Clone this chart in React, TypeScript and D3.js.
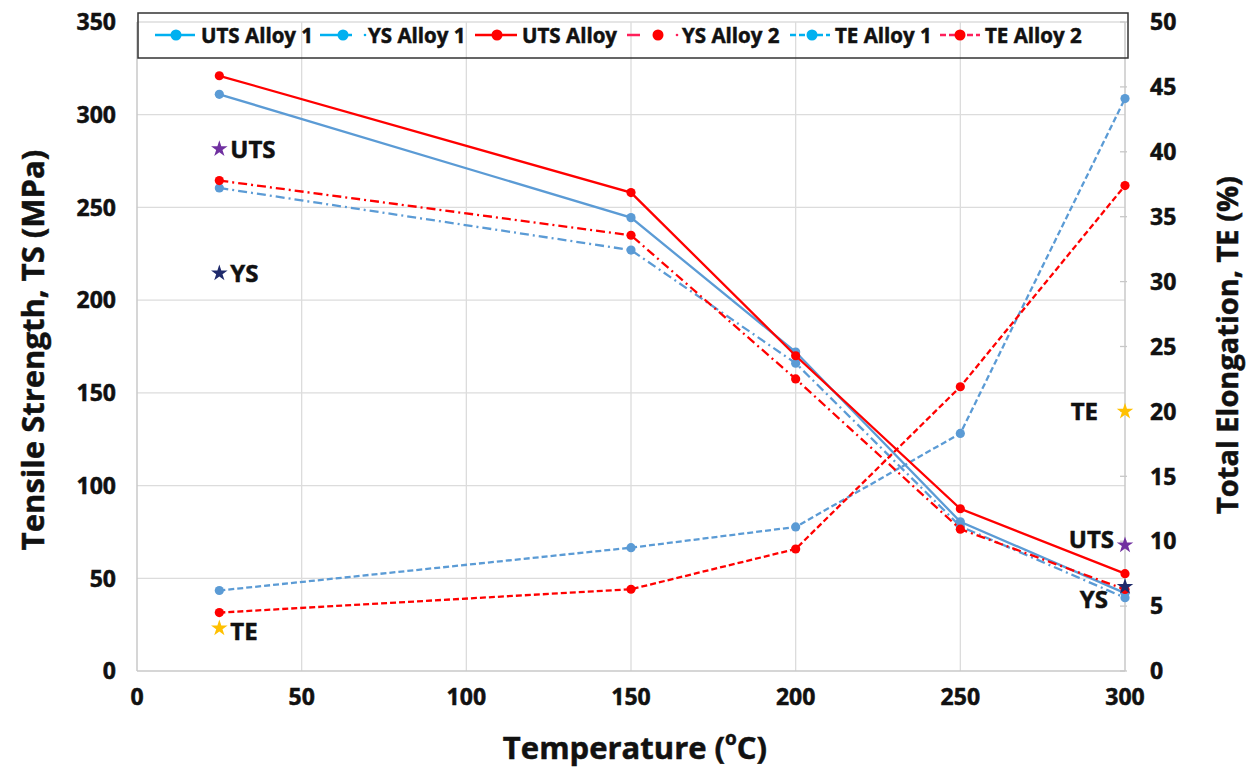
import React from "react";
import * as d3 from "d3";

// Test temperatures (°C)
const temperatures = [25, 150, 200, 250, 300];

// Tensile strength series (MPa, left axis)
const utsAlloy1 = [311, 244.5, 172, 80.5, 42];
const utsAlloy2 = [321, 258, 170, 87.5, 52.5];
const ysAlloy1 = [260.5, 227, 166, 78, 39.5];
const ysAlloy2 = [264.5, 235, 157.5, 76.5, 44];

// Total elongation series (%, right axis)
const teAlloy1 = [6.2, 9.5, 11.1, 18.3, 44.1];
const teAlloy2 = [4.5, 6.3, 9.4, 21.9, 37.4];

// Reference values shown as stars
const refTemps = [25, 25, 25, 300, 300, 300];
const refNames = ["UTS", "YS", "TE", "TE", "UTS", "YS"];
const refValues = [281.5, 214.5, 3.3, 20, 9.7, 6.5];
const refAxis = ["left", "left", "right", "right", "right", "right"];

// Axis ticks
const xTicks = [0, 50, 100, 150, 200, 250, 300];
const leftTicks = [0, 50, 100, 150, 200, 250, 300, 350];
const rightTicks = [0, 5, 10, 15, 20, 25, 30, 35, 40, 45, 50];

const legendLabels = ["UTS Alloy 1", "YS Alloy 1", "UTS Alloy", "YS Alloy 2", "TE Alloy 1", "TE Alloy 2"];

const W = 1255;
const H = 771;
const margin = { left: 137, right: 130, top: 22, bottom: 100 };
const FONT = "'Open Sans', 'Noto Sans', sans-serif";
const INK = "#111";

const BLUE = "#5B9BD5";
const RED = "#FF0000";
const CYAN = "#00B0F0";
const PINK = "#FF1F5A";

const starColors: Record<string, string> = { UTS: "#7030A0", YS: "#1F2A6B", TE: "#FFC000" };

export default function App() {
  const x = d3.scaleLinear().domain([0, 300]).range([margin.left, W - margin.right]);
  const yL = d3.scaleLinear().domain([0, 350]).range([H - margin.bottom, margin.top]);
  const yR = d3.scaleLinear().domain([0, 50]).range([H - margin.bottom, margin.top]);

  const lineL = d3.line<number>().x((_, i) => x(temperatures[i])).y((v) => yL(v));
  const lineR = d3.line<number>().x((_, i) => x(temperatures[i])).y((v) => yR(v));

  const series = [
    { values: utsAlloy1, line: lineL, y: yL, color: BLUE, dash: "none" },
    { values: ysAlloy1, line: lineL, y: yL, color: BLUE, dash: "9,4,2,4" },
    { values: teAlloy1, line: lineR, y: yR, color: BLUE, dash: "6,3" },
    { values: teAlloy2, line: lineR, y: yR, color: RED, dash: "6,3" },
    { values: ysAlloy2, line: lineL, y: yL, color: RED, dash: "9,4,2,4" },
    { values: utsAlloy2, line: lineL, y: yL, color: RED, dash: "none" },
  ];

  const star = d3.symbol().type(d3.symbolStar).size(85)();

  const x0 = x(0);
  const x1 = x(300);
  const yBottom = yL(0);

  // Legend symbol layout: line span, marker, optional trailing dot, text start
  const legendLayout = [
    { l0: 155, l1: 195, m: 176, dot: null, tx: 201, line: CYAN, mk: CYAN, dash: "none" },
    { l0: 320, l1: 352, m: 343, dot: 365, tx: 368, line: CYAN, mk: CYAN, dash: "none" },
    { l0: 475, l1: 517, m: 497, dot: null, tx: 522, line: RED, mk: RED, dash: "none" },
    { l0: 627, l1: 640, m: 658, dot: 677, tx: 682, line: PINK, mk: RED, dash: "none" },
    { l0: 790, l1: 830, m: 812, dot: null, tx: 835, line: CYAN, mk: CYAN, dash: "6,3" },
    { l0: 940, l1: 980, m: 960, dot: null, tx: 985, line: PINK, mk: RED, dash: "6,3" },
  ];

  const textStyle = { fontFamily: FONT, fontWeight: 700, fill: INK, stroke: INK, strokeWidth: 0.5 };

  return (
    <div style={{ position: "absolute", left: 0, top: 0 }}>
      <svg width={W} height={H} style={{ display: "block", background: "#fff" }}>
        {/* gridlines */}
        {leftTicks.filter((t) => t > 0).map((t) => (
          <line key={"h" + t} x1={x0} x2={x1} y1={yL(t)} y2={yL(t)} stroke="#DCDCDC" strokeWidth={1.3} />
        ))}
        {xTicks.filter((t) => t > 0 && t < 300).map((t) => (
          <line key={"v" + t} x1={x(t)} x2={x(t)} y1={yL(0)} y2={yL(350)} stroke="#DCDCDC" strokeWidth={1.3} />
        ))}
        {/* axes */}
        <line x1={x0} x2={x1} y1={yBottom} y2={yBottom} stroke="#C8C8C8" strokeWidth={1.5} />
        <line x1={x0} x2={x0} y1={yBottom} y2={yL(350)} stroke="#C8C8C8" strokeWidth={1.5} />
        <line x1={x1} x2={x1} y1={yBottom} y2={yL(350)} stroke="#C8C8C8" strokeWidth={1.5} />
        {rightTicks.map((t) => (
          <line key={"rt" + t} x1={x1 - 5} x2={x1 + 2} y1={yR(t)} y2={yR(t)} stroke="#C8C8C8" strokeWidth={1.3} />
        ))}

        {/* tick labels */}
        <g style={textStyle} fontSize={23}>
          {leftTicks.map((t) => (
            <text key={"lt" + t} x={116} y={yL(t)} dy="0.36em" textAnchor="end">{t}</text>
          ))}
          {rightTicks.map((t) => (
            <text key={"rl" + t} x={1150} y={yR(t)} dy="0.36em" textAnchor="start">{t}</text>
          ))}
          {xTicks.map((t) => (
            <text key={"xt" + t} x={x(t)} y={697} dy="0.36em" textAnchor="middle">{t}</text>
          ))}
        </g>

        {/* axis titles */}
        <g style={textStyle}>
          <text transform={`translate(33,${350}) rotate(-90)`} textAnchor="middle" dy="0.36em" fontSize={31}>
            Tensile Strength, TS (MPa)
          </text>
          <text transform={`translate(1228,${345}) rotate(-90)`} textAnchor="middle" dy="0.36em" fontSize={29}>
            Total Elongation, TE (%)
          </text>
          <text x={635} y={748} textAnchor="middle" dy="0.36em" fontSize={31}>
            Temperature (<tspan fontSize={19} dy="-0.75em">o</tspan>
            <tspan dy="0.46em" fontSize={31}>C)</tspan>
          </text>
        </g>

        {/* data series */}
        {series.map((s, i) => (
          <g key={"s" + i}>
            <path d={s.line(s.values) || ""} fill="none" stroke={s.color} strokeWidth={2.3} strokeDasharray={s.dash} />
            {s.values.map((v, j) => (
              <circle key={j} cx={x(temperatures[j])} cy={s.y(v)} r={4.6} fill={s.color} />
            ))}
          </g>
        ))}

        {/* reference stars with labels */}
        {refValues.map((v, i) => {
          const sx = x(refTemps[i]);
          const sy = refAxis[i] === "left" ? yL(v) : yR(v);
          const name = refNames[i];
          const leftSide = refTemps[i] < 150;
          let lx = sx + 11;
          let ly = sy;
          let anchor = "start";
          if (!leftSide) {
            anchor = "end";
            lx = sx - 14;
            if (name === "UTS") { lx = sx - 11; ly = sy - 6; }
            if (name === "YS") { lx = sx - 17; ly = sy + 13; }
            if (name === "TE") { lx = sx - 27; }
          } else if (name === "TE") {
            ly = sy + 3;
          }
          return (
            <g key={"st" + i}>
              <path d={star || ""} transform={`translate(${sx},${sy})`} fill={starColors[name]} />
              <text x={lx} y={ly} dy="0.36em" textAnchor={anchor} style={textStyle} fontSize={24}>
                {name}
              </text>
            </g>
          );
        })}

        {/* legend */}
        <rect x={138} y={13} width={990} height={45} fill="none" stroke="#333" strokeWidth={1.5} />
        {legendLayout.map((it, i) => (
          <g key={"lg" + i}>
            <line x1={it.l0} x2={it.l1} y1={35} y2={35} stroke={it.line} strokeWidth={2.5} strokeDasharray={it.dash} />
            <circle cx={it.m} cy={35} r={5.5} fill={it.mk} />
            {it.dot !== null && <circle cx={it.dot} cy={35} r={1.3} fill={it.line} />}
            <text x={it.tx} y={36} dy="0.36em" style={textStyle} fontSize={20.5}>
              {legendLabels[i]}
            </text>
          </g>
        ))}
      </svg>
    </div>
  );
}
